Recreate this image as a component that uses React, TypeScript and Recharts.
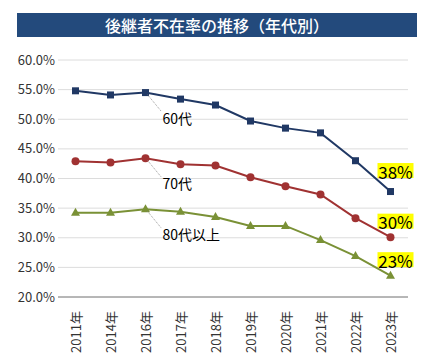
import { LineChart, Line, XAxis, YAxis, CartesianGrid } from "recharts";

const years = ["2011年", "2014年", "2016年", "2017年", "2018年", "2019年", "2020年", "2021年", "2022年", "2023年"];
const sixties = [54.8, 54.1, 54.5, 53.4, 52.4, 49.7, 48.5, 47.7, 43.0, 37.8];
const seventies = [42.9, 42.7, 43.4, 42.4, 42.2, 40.2, 38.7, 37.3, 33.3, 30.1];
const eightiesPlus = [34.2, 34.2, 34.8, 34.4, 33.5, 32.0, 32.0, 29.6, 26.9, 23.6];
const seriesNames = ["60代", "70代", "80代以上"];
const endLabels = ["38%", "30%", "23%"];
const yTicks = [20, 25, 30, 35, 40, 45, 50, 55, 60];
const title = "後継者不在率の推移（年代別）";

const FONT = "'Noto Sans CJK JP', 'Noto Sans', sans-serif";

const data = years.map((year, i) => ({
  year,
  s60: sixties[i],
  s70: seventies[i],
  s80: eightiesPlus[i],
}));

const series = [
  { key: "s60", color: "#203864", shape: "square", endDy: -21 },
  { key: "s70", color: "#a03232", shape: "circle", endDy: -16 },
  { key: "s80", color: "#7a9136", shape: "triangle", endDy: -16 },
];

const makeDot = (shape: string, color: string) => (props: any) => {
  const { cx, cy, index } = props;
  if (cx == null || cy == null) return <g key={`d-${index}`} />;
  if (shape === "square") {
    return <rect key={`d-${index}`} x={cx - 3.5} y={cy - 3.5} width={7} height={7} fill={color} />;
  }
  if (shape === "circle") {
    return <circle key={`d-${index}`} cx={cx} cy={cy} r={4} fill={color} />;
  }
  return (
    <polygon
      key={`d-${index}`}
      points={`${cx},${cy - 5} ${cx + 4.5},${cy + 3} ${cx - 4.5},${cy + 3}`}
      fill={color}
    />
  );
};

// series name at 2016 with a dotted leader, highlighted value at 2023
const makeLabel = (si: number) => (props: any) => {
  const { x, y, index } = props;
  if (index === 2) {
    return (
      <g key={`l-${index}`}>
        <line x1={x + 2} y1={y + 2} x2={x + 16} y2={y + 19} stroke="#808080" strokeWidth={0.8} strokeDasharray="1 1" />
        <text x={x + 17} y={y + 25} dominantBaseline="central" fontSize={14} fontFamily={FONT} fill="#000">
          {seriesNames[si]}
        </text>
      </g>
    );
  }
  if (index === years.length - 1) {
    const cy = y + series[si].endDy;
    return (
      <g key={`l-${index}`}>
        <rect x={x - 13} y={cy - 7.5} width={36} height={15} fill="#ffff00" />
        <text x={x + 5} y={cy + 0.5} textAnchor="middle" dominantBaseline="central" fontSize={17} fontFamily={FONT} fill="#000">
          {endLabels[si]}
        </text>
      </g>
    );
  }
  return <g key={`l-${index}`} />;
};

const YearTick = (props: any) => {
  const { x, y, payload } = props;
  return (
    <text
      x={x}
      y={y + 6}
      transform={`rotate(-90, ${x}, ${y + 6})`}
      textAnchor="end"
      dominantBaseline="central"
      fontSize={13}
      fontFamily={FONT}
      fill="#333"
    >
      {payload.value}
    </text>
  );
};

export default function App() {
  return (
    <div style={{ position: "absolute", left: 0, top: 0, width: 431, height: 355, background: "#fff" }}>
      <div
        style={{
          position: "absolute",
          left: 17,
          top: 13,
          width: 400,
          height: 24,
          background: "#234a7c",
          color: "#fff",
          fontFamily: FONT,
          fontSize: 16,
          fontWeight: 500,
          lineHeight: "24px",
          textAlign: "center",
        }}
      >
        {title}
      </div>
      <LineChart width={431} height={355} data={data} margin={{ top: 60, right: 23, left: 0, bottom: 8 }}>
        <CartesianGrid horizontal vertical={false} stroke="#dcdcdc" />
        <XAxis
          dataKey="year"
          height={50}
          padding={{ left: 17.5, right: 17.5 }}
          tick={<YearTick />}
          tickLine={false}
          axisLine={{ stroke: "#808080" }}
          interval={0}
        />
        <YAxis
          width={58}
          domain={[20, 60]}
          ticks={yTicks}
          tickFormatter={(v: number) => `${v.toFixed(1)}%`}
          axisLine={false}
          tickLine={false}
          tickSize={0}
          tickMargin={3}
          tick={{ fontSize: 13, fontFamily: FONT, fill: "#333" }}
          interval={0}
        />
        {series.map((s, si) => (
          <Line
            key={s.key}
            dataKey={s.key}
            stroke={s.color}
            strokeWidth={2}
            dot={makeDot(s.shape, s.color)}
            activeDot={false}
            label={makeLabel(si)}
            isAnimationActive={false}
          />
        ))}
      </LineChart>
    </div>
  );
}
